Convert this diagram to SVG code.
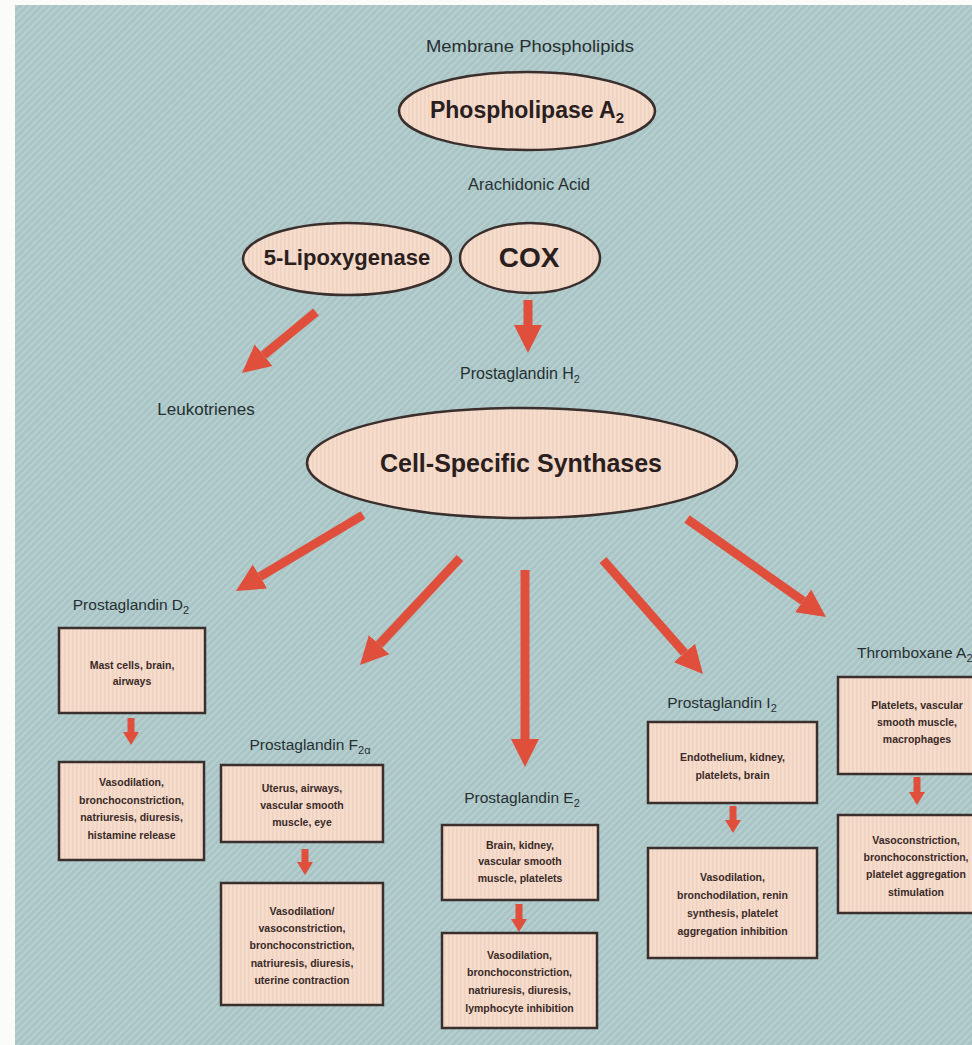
<svg xmlns="http://www.w3.org/2000/svg" width="972" height="1045" viewBox="0 0 972 1045">
<style>
.lbl{font-family:"Liberation Sans",Arial,sans-serif;fill:#263032;text-anchor:middle}
.big{font-family:"Liberation Sans",Arial,sans-serif;font-weight:bold;fill:#2a1e1e;text-anchor:middle}
.bx{font-family:"Liberation Sans",Arial,sans-serif;font-weight:bold;font-size:10.5px;fill:#3a2a28;text-anchor:middle}
.node{fill:url(#cream);stroke:#3a2f2d;stroke-width:2.5}
.box{fill:url(#cream);stroke:#3a2f2d;stroke-width:2.5}
.arr{stroke:#df4f3c;stroke-width:9;fill:none;marker-end:url(#head)}
.sarr{stroke:#df4f3c;stroke-width:7;fill:none;marker-end:url(#shead)}
</style>
<defs>
<pattern id="hatch" width="5" height="5" patternUnits="userSpaceOnUse" patternTransform="rotate(-45)">
<rect width="5" height="5" fill="#a8c4c4"/>
<rect width="5" height="2" fill="#b8cfd0"/>
</pattern>
<pattern id="cream" width="4" height="4" patternUnits="userSpaceOnUse">
<rect width="4" height="4" fill="#f5dccb"/>
<rect width="1.5" height="4" fill="#efd2c2"/>
</pattern>
<marker id="head" markerUnits="userSpaceOnUse" markerWidth="30" markerHeight="30" viewBox="0 -15 30 30" refX="0" refY="0" orient="auto">
<path d="M0,-14 L28,0 L0,14 z" fill="#df4f3c"/>
</marker>
<marker id="shead" markerUnits="userSpaceOnUse" markerWidth="16" markerHeight="18" viewBox="0 -9 16 18" refX="0" refY="0" orient="auto">
<path d="M0,-8 L13,0 L0,8 z" fill="#df4f3c"/>
</marker>
</defs>
<rect width="972" height="1045" fill="#fbfbfa"/>
<rect x="15" y="5" width="957" height="1040" fill="url(#hatch)"/>

<g id="connectors">
<line class="arr" x1="316" y1="312" x2="263.6" y2="355.2"/>
<line class="arr" x1="528" y1="300" x2="528" y2="325"/>
<line class="arr" x1="363" y1="515" x2="260" y2="576.6"/>
<line class="arr" x1="460" y1="558" x2="379.1" y2="644.6"/>
<line class="arr" x1="525" y1="570" x2="525" y2="739"/>
<line class="arr" x1="603" y1="560" x2="684.5" y2="652.9"/>
<line class="arr" x1="687" y1="519" x2="803.1" y2="600.9"/>
<line class="sarr" x1="131" y1="718" x2="131" y2="732"/>
<line class="sarr" x1="305" y1="849" x2="305" y2="862"/>
<line class="sarr" x1="519" y1="904" x2="519" y2="919"/>
<line class="sarr" x1="733" y1="806" x2="733" y2="820"/>
<line class="sarr" x1="917" y1="777" x2="917" y2="792"/>
</g>

<g id="membrane"><text class="lbl" x="530" y="52" font-size="17" textLength="208" lengthAdjust="spacingAndGlyphs">Membrane Phospholipids</text></g>
<g id="pla2">
<ellipse class="node" cx="527" cy="111" rx="128" ry="39"/>
<text class="big" x="527" y="118" font-size="23">Phospholipase A<tspan font-size="15" dy="5">2</tspan></text>
</g>
<g id="aa"><text class="lbl" x="529" y="190" font-size="16.5">Arachidonic Acid</text></g>
<g id="lox">
<ellipse class="node" cx="347" cy="259" rx="104" ry="36"/>
<text class="big" x="347" y="265" font-size="22">5-Lipoxygenase</text>
</g>
<g id="cox">
<ellipse class="node" cx="530" cy="258" rx="70" ry="35"/>
<text class="big" x="529" y="267" font-size="28">COX</text>
</g>
<g id="leuko"><text class="lbl" x="206" y="415" font-size="17">Leukotrienes</text></g>
<g id="pgh2"><text class="lbl" x="520" y="379" font-size="16">Prostaglandin H<tspan font-size="11" dy="4">2</tspan></text></g>
<g id="synth">
<ellipse class="node" cx="522" cy="463" rx="215" ry="55"/>
<text class="big" x="521" y="472" font-size="25">Cell-Specific Synthases</text>
</g>

<g id="pgd2">
<text class="lbl" x="131" y="610" font-size="15.5">Prostaglandin D<tspan font-size="11" dy="4">2</tspan></text>
<rect class="box" x="59" y="628" width="146" height="85"/>
<text class="bx" x="132" y="669">Mast cells, brain,</text>
<text class="bx" x="132" y="685">airways</text>
<rect class="box" x="59" y="762" width="145" height="98"/>
<text class="bx" x="131.5" y="786">Vasodilation,</text>
<text class="bx" x="131.5" y="804">bronchoconstriction,</text>
<text class="bx" x="131.5" y="821">natriuresis, diuresis,</text>
<text class="bx" x="131.5" y="839">histamine release</text>
</g>

<g id="pgf2a">
<text class="lbl" x="310" y="750" font-size="15.5">Prostaglandin F<tspan font-size="11" dy="4">2α</tspan></text>
<rect class="box" x="221" y="765" width="162" height="77"/>
<text class="bx" x="302" y="792">Uterus, airways,</text>
<text class="bx" x="302" y="809">vascular smooth</text>
<text class="bx" x="302" y="826">muscle, eye</text>
<rect class="box" x="221" y="883" width="162" height="122"/>
<text class="bx" x="302" y="915">Vasodilation/</text>
<text class="bx" x="302" y="932">vasoconstriction,</text>
<text class="bx" x="302" y="949">bronchoconstriction,</text>
<text class="bx" x="302" y="967">natriuresis, diuresis,</text>
<text class="bx" x="302" y="984">uterine contraction</text>
</g>

<g id="pge2">
<text class="lbl" x="522" y="803" font-size="15.5">Prostaglandin E<tspan font-size="11" dy="4">2</tspan></text>
<rect class="box" x="442" y="825" width="156" height="75"/>
<text class="bx" x="520" y="849">Brain, kidney,</text>
<text class="bx" x="520" y="865">vascular smooth</text>
<text class="bx" x="520" y="882">muscle, platelets</text>
<rect class="box" x="442" y="933" width="155" height="95"/>
<text class="bx" x="519.5" y="959">Vasodilation,</text>
<text class="bx" x="519.5" y="976">bronchoconstriction,</text>
<text class="bx" x="519.5" y="994">natriuresis, diuresis,</text>
<text class="bx" x="519.5" y="1012">lymphocyte inhibition</text>
</g>

<g id="pgi2">
<text class="lbl" x="722" y="708" font-size="15.5">Prostaglandin I<tspan font-size="11" dy="4">2</tspan></text>
<rect class="box" x="648" y="722" width="169" height="81"/>
<text class="bx" x="732.5" y="761">Endothelium, kidney,</text>
<text class="bx" x="732.5" y="779">platelets, brain</text>
<rect class="box" x="648" y="848" width="169" height="110"/>
<text class="bx" x="732.5" y="881">Vasodilation,</text>
<text class="bx" x="732.5" y="899">bronchodilation, renin</text>
<text class="bx" x="732.5" y="917">synthesis, platelet</text>
<text class="bx" x="732.5" y="935">aggregation inhibition</text>
</g>

<g id="txa2">
<text class="lbl" x="857" y="658" font-size="15.5" style="text-anchor:start">Thromboxane A<tspan font-size="11" dy="4">2</tspan></text>
<rect class="box" x="838" y="677" width="160" height="97"/>
<text class="bx" x="917" y="709">Platelets, vascular</text>
<text class="bx" x="917" y="726">smooth muscle,</text>
<text class="bx" x="917" y="743">macrophages</text>
<rect class="box" x="838" y="815" width="160" height="98"/>
<text class="bx" x="916" y="844">Vasoconstriction,</text>
<text class="bx" x="916" y="861">bronchoconstriction,</text>
<text class="bx" x="916" y="878">platelet aggregation</text>
<text class="bx" x="916" y="896">stimulation</text>
</g>
</svg>
